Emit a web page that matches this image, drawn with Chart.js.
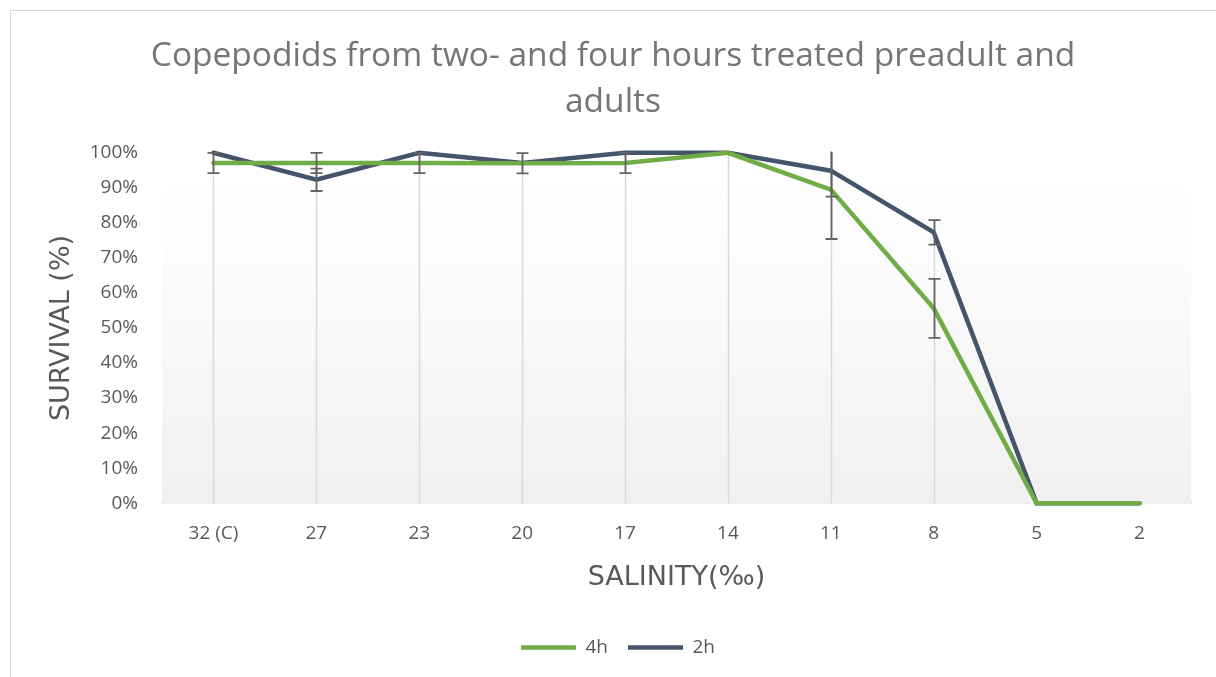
<!DOCTYPE html>
<html>
<head>
<meta charset="utf-8">
<script src="https://cdn.jsdelivr.net/npm/chart.js@4.4.0/dist/chart.umd.min.js"></script>
<style>
  html, body { margin: 0; padding: 0; background: #fff; }
  #wrap { position: absolute; left: 0; top: 0; width: 1216px; height: 677px; }
  #frame { position: absolute; left: 10px; top: 10px; width: 1210px; height: 670px; border: 1px solid #d9d9d9; box-sizing: border-box; }
</style>
</head>
<body>
<div id="wrap">
  <div id="frame"></div>
  <canvas id="canvas" width="1216" height="677"></canvas>
</div>
<script>
// data
var categories = ['32 (C)', '27', '23', '20', '17', '14', '11', '8', '5', '2'];
var survival4h = [97.1, 97.1, 97.1, 97.0, 97.1, 100, 89.5, 55.6, 0, 0];
var survival2h = [100, 92.3, 100, 97.1, 100, 100, 94.9, 77.3, 0, 0];
var error4h = [2.9, 2.9, 2.9, 2.9, 2.9, 0, 14.1, 8.4, 0, 0];
var error2h = [0, 3.2, 0, 0, 0, 0, 7.4, 3.5, 0, 0];
var yTicks = [0, 10, 20, 30, 40, 50, 60, 70, 80, 90, 100];

(function(){
	var canvas = document.getElementById('canvas');
	var errors = [error4h, error2h];

	// gradient fill behind the plot area, drop lines, error bars
	var plotBack = {
		id: 'plotBack',
		afterLayout: function(chart){
			// title and legend sit a bit right of centre in the original
			if (chart.legend) {
				chart.legend.left += 17;
				chart.legend.right += 17;
			}
			if (chart.titleBlock) {
				chart.titleBlock.left += 12;
				chart.titleBlock.right += 12;
			}
		},
		beforeDatasetsDraw: function(chart){
			var ctx = chart.ctx, a = chart.chartArea;
			var x = chart.scales.x, y = chart.scales.y;
			ctx.save();
			var g = ctx.createLinearGradient(0, a.top, 0, a.bottom);
			g.addColorStop(0, '#ffffff');
			g.addColorStop(0.3, '#fcfcfc');
			g.addColorStop(1, '#f0f0f0');
			ctx.fillStyle = g;
			ctx.fillRect(a.left, a.top, a.right - a.left, a.bottom - a.top);

			ctx.strokeStyle = '#d9d9d9';
			ctx.lineWidth = 1.5;
			for (var i = 0; i < categories.length; i++) {
				var top = Math.max(survival4h[i], survival2h[i]);
				if (top <= 0) continue;
				var px = Math.round(x.getPixelForValue(i)) + 0.5;
				ctx.beginPath();
				ctx.moveTo(px, y.getPixelForValue(top));
				ctx.lineTo(px, a.bottom);
				ctx.stroke();
			}
			ctx.restore();
		},
		afterDatasetsDraw: function(chart){
			var ctx = chart.ctx, a = chart.chartArea;
			var x = chart.scales.x, y = chart.scales.y;
			ctx.save();
			ctx.beginPath();
			ctx.rect(a.left, a.top - 1, a.right - a.left, a.bottom - a.top + 1);
			ctx.clip();
			ctx.strokeStyle = '#636363';
			ctx.lineWidth = 1.8;
			chart.data.datasets.forEach(function(ds, d){
				ds.data.forEach(function(v, i){
					var e = errors[d][i];
					if (!e) return;
					var px = Math.round(x.getPixelForValue(i)) + 0.5;
					var y1 = y.getPixelForValue(v + e), y2 = y.getPixelForValue(v - e);
					ctx.beginPath();
					ctx.moveTo(px, y1); ctx.lineTo(px, y2);
					ctx.moveTo(px - 6, y1); ctx.lineTo(px + 6, y1);
					ctx.moveTo(px - 6, y2); ctx.lineTo(px + 6, y2);
					ctx.stroke();
				});
			});
			ctx.restore();
		}
	};

	new Chart(canvas, {
		type: 'line',
		data: {
			labels: categories,
			datasets: [{
				label: '4h',
				data: survival4h,
				borderColor: '#70ad47',
				backgroundColor: '#70ad47',
				borderWidth: 4.5,
				borderCapStyle: 'round',
				pointRadius: 0,
				tension: 0,
				clip: false
			}, {
				label: '2h',
				data: survival2h,
				borderColor: '#44546a',
				backgroundColor: '#44546a',
				borderWidth: 4.5,
				borderCapStyle: 'round',
				pointRadius: 0,
				tension: 0,
				clip: false
			}]
		},
		options: {
			responsive: false,
			animation: false,
			layout: { padding: { top: 34, left: 11, right: 25, bottom: 10 } },
			plugins: {
				title: {
					display: true,
					text: ['Copepodids from two- and four hours treated preadult and', 'adults'],
					color: '#757575',
					font: { family: 'Open Sans', size: 33.5, weight: 'normal', lineHeight: 1.37 },
					padding: { top: 0, bottom: 27 }
				},
				legend: {
					position: 'bottom',
					labels: {
						usePointStyle: true,
						pointStyle: 'line',
						pointStyleWidth: 55,
						color: '#595959',
						font: { family: 'Open Sans', size: 19 },
						padding: 20
					}
				},
				tooltip: { enabled: false }
			},
			scales: {
				x: {
					offset: true,
					grid: { display: false, drawTicks: false },
					border: { display: true, color: '#d9d9d9', width: 1.5 },
					ticks: { color: '#595959', font: { family: 'Open Sans', size: 19 }, padding: 19, maxRotation: 0 },
					title: {
						display: true,
						text: 'SALINITY(‰)',
						color: '#595959',
						font: { family: 'DejaVu Sans', size: 27, lineHeight: 1 },
						padding: { top: 0, bottom: 27 }
					}
				},
				y: {
					min: 0,
					max: 100,
					afterBuildTicks: function(axis){
						axis.ticks = yTicks.map(function(v){ return { value: v }; });
					},
					afterFit: function(axis){
						axis.width = 151;
					},
					grid: { display: false, drawTicks: false },
					border: { display: false },
					ticks: {
						color: '#595959',
						font: { family: 'Open Sans', size: 19 },
						padding: 24,
						callback: function(v){ return v + '%'; }
					},
					title: {
						display: true,
						text: 'SURVIVAL (%)',
						color: '#595959',
						font: { family: 'DejaVu Sans', size: 27, lineHeight: 1 },
						padding: { top: 37, bottom: 0 }
					}
				}
			}
		},
		plugins: [plotBack]
	});
}());
</script>
</body>
</html>
